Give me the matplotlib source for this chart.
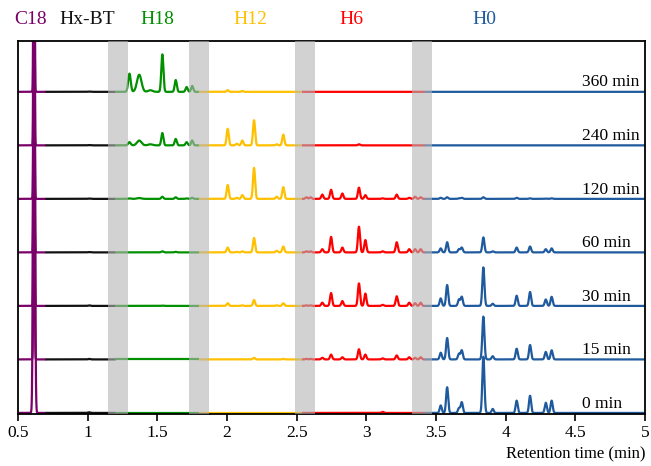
import numpy as np
import matplotlib
matplotlib.use('Agg')
import matplotlib.pyplot as plt

plt.rcParams['font.family'] = ['Liberation Serif', 'DejaVu Serif']

# sampling times (bottom to top)
times = ['0 min', '15 min', '30 min', '60 min', '120 min', '240 min', '360 min']

# retention times of the peaks (min)
rt_c18 = [0.615]
rt_hxbt = [1.01]
rt_h18 = [1.30, 1.37, 1.45, 1.536, 1.632, 1.71, 1.75]
rt_h12 = [2.005, 2.07, 2.11, 2.194, 2.357, 2.404]
rt_h6 = [2.57, 2.60, 2.684, 2.747, 2.828, 2.947, 2.993, 3.117, 3.218, 3.308, 3.35, 3.39]
rt_h0 = [3.534, 3.58, 3.665, 3.685, 3.84, 3.907, 4.079, 4.175, 4.288, 4.33]

# peak heights for each sample, same order as the retention times above
h_c18 = [9, 9, 9, 9, 9, 9, 9]
h_hxbt = [0.012, 0.01, 0.01, 0.006, 0.006, 0.005, 0.005]
h_h18 = [
    [0, 0, 0, 0, 0, 0, 0],
    [0, 0, 0, 0, 0, 0, 0],
    [0, 0, 0, 0.005, 0, 0, 0],
    [0, 0, 0, 0.02, 0.01, 0, 0],
    [0.01, 0.015, 0, 0.04, 0.03, 0.01, 0.02],
    [0.06, 0.09, 0.02, 0.23, 0.12, 0.06, 0.09],
    [0.34, 0.32, 0.03, 0.70, 0.22, 0.09, 0.11],
]
h_h12 = [
    [0, 0, 0, 0, 0, 0],
    [0, 0, 0, 0.03, 0, 0.01],
    [0.05, 0, 0.01, 0.11, 0.01, 0.05],
    [0.09, 0.01, 0.02, 0.27, 0.03, 0.11],
    [0.26, 0.02, 0.07, 0.58, 0.04, 0.22],
    [0.31, 0.03, 0.09, 0.47, 0.02, 0.20],
    [0.03, 0, 0.015, 0, 0, 0],
]
h_h6 = [
    [0, 0, 0, 0, 0, 0, 0, 0.02, 0, 0, 0, 0],
    [0.01, 0.01, 0.03, 0.09, 0.04, 0.19, 0.09, 0.02, 0.075, 0.04, 0.03, 0.04],
    [0.01, 0.01, 0.06, 0.24, 0.09, 0.42, 0.23, 0.02, 0.18, 0.06, 0.05, 0.06],
    [0.02, 0.02, 0.06, 0.29, 0.09, 0.48, 0.23, 0.02, 0.19, 0.06, 0.06, 0.06],
    [0.03, 0.03, 0.08, 0.17, 0.10, 0.21, 0.07, 0.01, 0.08, 0.02, 0.04, 0.03],
    [0, 0, 0, 0, 0, 0.02, 0, 0, 0, 0, 0, 0],
    [0, 0, 0, 0, 0, 0, 0, 0, 0, 0, 0, 0],
]
h_h0 = [
    [0.14, 0.48, 0.09, 0.20, 1.05, 0.075, 0.23, 0.32, 0.19, 0.23],
    [0.125, 0.40, 0.105, 0.17, 0.80, 0.06, 0.20, 0.27, 0.14, 0.17],
    [0.14, 0.39, 0.12, 0.17, 0.72, 0.04, 0.19, 0.26, 0.12, 0.17],
    [0.075, 0.19, 0.06, 0.09, 0.28, 0.02, 0.09, 0.11, 0.06, 0.075],
    [0.02, 0.03, 0.01, 0.02, 0.03, 0, 0.02, 0.01, 0.005, 0.01],
    [0, 0, 0, 0, 0, 0, 0, 0, 0, 0],
    [0, 0, 0, 0, 0, 0, 0, 0, 0, 0],
]

groups = ['C18', 'Hx-BT', 'H18', 'H12', 'H6', 'H0']
group_x = [0.593, 0.995, 1.50, 2.165, 2.89, 3.85]
colors = ['#7a006a', '#111111', '#009000', '#ffc000', '#ff0000', '#1f5a9e']
seg_edges = [0.5, 0.70, 1.20, 1.80, 2.54, 3.42, 5.0]
bands = [(1.146, 1.29), (1.728, 1.871), (2.488, 2.632), (3.33, 3.47)]


def peak_width(rt):
    if rt in (1.37, 1.45):
        return 0.016
    if rt == 1.30:
        return 0.009
    if rt == 0.615:
        return 0.0035
    return 0.0075


x = np.linspace(0.5, 5.0, 6000)
fig = plt.figure(figsize=(6.51, 4.66), dpi=100)
ax = fig.add_axes([18 / 651, 1 - 414 / 466, 627 / 651, 373 / 466])

spacing = 1.0
for i, t in enumerate(times):
    rts = rt_c18 + rt_hxbt + rt_h18 + rt_h12 + rt_h6 + rt_h0
    hs = [h_c18[i], h_hxbt[i]] + h_h18[i] + h_h12[i] + h_h6[i] + h_h0[i]
    y = np.zeros_like(x)
    for rt, h in zip(rts, hs):
        w = peak_width(rt)
        if i == 0 and rt == 0.615:
            w = 0.006
        y += h * np.exp(-0.5 * ((x - rt) / w) ** 2)
    y += i * spacing
    for k in range(len(colors)):
        m = (x >= seg_edges[k] - 0.002) & (x <= seg_edges[k + 1] + 0.002)
        ax.plot(x[m], y[m], color=colors[k], lw=1.6, solid_capstyle='butt', zorder=2)
    ax.text(4.55, i * spacing + 0.1, t, ha='left', va='baseline', fontsize=12.5, zorder=4)

for a, b in bands:
    ax.axvspan(a, b, color='#b5b5b5', alpha=0.6, lw=0, zorder=3)

for g, gx, c in zip(groups, group_x, colors):
    ax.text(gx, 1.058, g, color=c, ha='center', va='center', fontsize=14,
            transform=ax.get_xaxis_transform())

ax.set_xlim(0.5, 5.0)
ax.set_ylim(-0.02, 6.95)
ax.set_yticks([])
ax.set_xticks(np.arange(0.5, 5.01, 0.5))
ax.set_xticklabels(['%g' % v for v in np.arange(0.5, 5.01, 0.5)])
ax.tick_params(axis='x', direction='out', length=5, width=1.2, labelsize=12.5, pad=3)
for s in ax.spines.values():
    s.set_linewidth(1.3)
ax.set_xlabel('Retention time (min)', loc='right', fontsize=12, labelpad=4)

fig.savefig('out.png', dpi=100)
